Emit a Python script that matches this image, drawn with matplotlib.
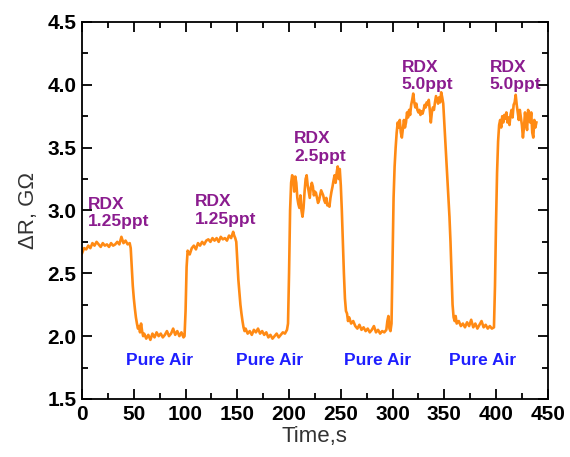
import numpy as np
import matplotlib
matplotlib.use("Agg")
from matplotlib import pyplot as plt
from matplotlib.ticker import MultipleLocator

# sensor response (time in s, dR in GOhm)
t_rdx1 = [0, 2, 4, 6, 8, 10, 12, 14, 16, 18, 20, 22, 24, 26, 28, 30, 32, 34, 36, 38, 40, 42, 44, 46, 47]
r_rdx1 = [2.66, 2.70, 2.69, 2.72, 2.70, 2.74, 2.72, 2.75, 2.73, 2.71, 2.74, 2.72, 2.73, 2.71, 2.74,
          2.72, 2.73, 2.75, 2.73, 2.79, 2.74, 2.76, 2.73, 2.74, 2.70]

t_air1 = [48, 49, 50, 51, 52, 53, 54, 55, 56, 57, 58, 59, 60, 62, 64, 66, 68, 70, 72, 74, 76, 78,
          80, 82, 84, 86, 88, 90, 92, 94, 96, 98, 99]
r_air1 = [2.55, 2.40, 2.30, 2.22, 2.15, 2.10, 2.06, 2.08, 2.03, 2.10, 2.04, 2.00, 2.02, 1.98, 2.01,
          1.97, 2.02, 1.99, 2.03, 2.00, 2.02, 1.99, 2.01, 2.04, 2.00, 2.02, 2.06, 2.01, 2.04, 2.00,
          2.03, 1.99, 2.00]

t_rdx2 = [100, 101, 102, 104, 106, 108, 110, 112, 114, 116, 118, 120, 122, 124, 126, 128, 130, 132,
          134, 136, 138, 140, 142, 144, 146, 147, 148]
r_rdx2 = [2.20, 2.55, 2.68, 2.65, 2.70, 2.72, 2.69, 2.74, 2.72, 2.75, 2.73, 2.76, 2.77, 2.75, 2.78,
          2.76, 2.78, 2.75, 2.79, 2.77, 2.78, 2.76, 2.80, 2.78, 2.83, 2.80, 2.78]

t_air2 = [149, 150, 151, 152, 153, 154, 155, 156, 157, 158, 160, 162, 164, 166, 168, 170, 172, 174,
          176, 178, 180, 182, 184, 186, 188, 190, 192, 194, 196, 198, 199]
r_air2 = [2.75, 2.60, 2.45, 2.35, 2.25, 2.18, 2.12, 2.07, 2.04, 2.06, 2.02, 2.04, 2.01, 2.05, 2.03,
          2.06, 2.02, 2.04, 2.01, 2.03, 1.99, 2.01, 1.98, 2.00, 2.02, 1.99, 2.01, 2.03, 2.02, 2.05, 2.10]

t_rdx3 = list(range(200, 251))
r_rdx3 = [2.50, 3.00, 3.22, 3.28, 3.25, 3.15, 3.27, 3.22, 3.10, 3.05, 3.02, 3.12, 3.00, 2.95, 3.02,
          3.15, 3.25, 3.28, 3.20, 3.15, 3.10, 3.18, 3.22, 3.19, 3.12, 3.15, 3.14, 3.10, 3.06, 3.08,
          3.12, 3.16, 3.14, 3.12, 3.08, 3.06, 3.10, 3.04, 3.05, 3.03, 3.10, 3.15, 3.19, 3.24, 3.28,
          3.22, 3.30, 3.35, 3.25, 3.33, 3.20]

t_air3 = [251, 252, 253, 254, 255, 256, 257, 258, 260, 262, 264, 266, 268, 270, 272, 274, 276, 278,
          280, 282, 284, 286, 288, 290, 292, 294, 295, 296, 297, 298, 299]
r_air3 = [3.00, 2.75, 2.50, 2.30, 2.20, 2.18, 2.12, 2.15, 2.10, 2.12, 2.08, 2.06, 2.09, 2.05, 2.07,
          2.04, 2.06, 2.03, 2.05, 2.08, 2.03, 2.05, 2.02, 2.04, 2.03, 2.05, 2.12, 2.16, 2.06, 2.04, 2.10]

t_rdx4 = list(range(300, 350))
r_rdx4 = [2.60, 3.10, 3.35, 3.50, 3.62, 3.70, 3.66, 3.72, 3.62, 3.58, 3.65, 3.72, 3.66, 3.70, 3.78,
          3.74, 3.80, 3.76, 3.84, 3.88, 3.93, 3.86, 3.82, 3.85, 3.80, 3.78, 3.80, 3.76, 3.79, 3.77,
          3.80, 3.84, 3.82, 3.86, 3.84, 3.88, 3.80, 3.70, 3.78, 3.82, 3.80, 3.86, 3.91, 3.88, 3.85,
          3.90, 3.86, 3.94, 3.90, 3.85]

t_air4 = [350, 351, 352, 353, 354, 355, 356, 357, 358, 359, 360, 361, 362, 364, 366, 368, 370, 372,
          374, 376, 378, 380, 382, 384, 386, 388, 390, 392, 394, 396, 398]
r_air4 = [3.70, 3.55, 3.40, 3.25, 3.10, 2.95, 2.75, 2.50, 2.25, 2.15, 2.12, 2.16, 2.10, 2.12, 2.08,
          2.10, 2.07, 2.11, 2.08, 2.13, 2.07, 2.10, 2.06, 2.09, 2.12, 2.07, 2.09, 2.06, 2.08, 2.06, 2.07]

t_rdx5 = list(range(399, 440))
r_rdx5 = [2.40, 2.90, 3.30, 3.55, 3.68, 3.72, 3.66, 3.75, 3.70, 3.76, 3.73, 3.78, 3.70, 3.74, 3.68,
          3.76, 3.80, 3.74, 3.84, 3.86, 3.92, 3.84, 3.78, 3.72, 3.80, 3.74, 3.68, 3.58, 3.66, 3.78,
          3.70, 3.64, 3.80, 3.76, 3.70, 3.78, 3.62, 3.58, 3.72, 3.66, 3.70]

time_s = t_rdx1 + t_air1 + t_rdx2 + t_air2 + t_rdx3 + t_air3 + t_rdx4 + t_air4 + t_rdx5
delta_r = r_rdx1 + r_air1 + r_rdx2 + r_air2 + r_rdx3 + r_air3 + r_rdx4 + r_air4 + r_rdx5

# labels on the plot
rdx_text = ["RDX\n1.25ppt", "RDX\n1.25ppt", "RDX\n2.5ppt", "RDX\n5.0ppt", "RDX\n5.0ppt"]
rdx_x = [6, 109, 205, 309, 394]
rdx_y = [2.98, 3.0, 3.50, 4.07, 4.07]
air_x = [75, 181, 286, 387]
air_y = [1.81, 1.81, 1.81, 1.81]

plt.rcParams['font.family'] = ['Liberation Sans', 'DejaVu Sans']

fig = plt.figure(figsize=(5.7, 4.57), dpi=100)
ax = fig.add_axes([0.144, 0.127, 0.817, 0.825])

ax.plot(time_s, delta_r, color='#ff8a14', lw=1.9)

for txt, x, y in zip(rdx_text, rdx_x, rdx_y):
    ax.text(x, y, txt, color='#8b1c8f', fontsize=12.5, fontweight='bold',
            ha='left', va='center', linespacing=1.2)
for x, y in zip(air_x, air_y):
    ax.text(x, y, "Pure Air", color='#1f1fff', fontsize=12.5, fontweight='bold',
            ha='center', va='center')

ax.set_xlim(0, 450)
ax.set_ylim(1.5, 4.5)
ax.xaxis.set_major_locator(MultipleLocator(50))
ax.xaxis.set_minor_locator(MultipleLocator(25))
ax.yaxis.set_major_locator(MultipleLocator(0.5))
ax.yaxis.set_minor_locator(MultipleLocator(0.25))
ax.yaxis.set_major_formatter(matplotlib.ticker.FormatStrFormatter('%.1f'))
ax.tick_params(which='both', direction='in', top=True, right=True, width=1.3)
ax.tick_params(which='major', length=7, labelsize=15, pad=4)
ax.tick_params(which='minor', length=4)
for lab in ax.get_xticklabels() + ax.get_yticklabels():
    lab.set_fontweight('bold')
for s in ax.spines.values():
    s.set_linewidth(1.3)

ax.set_xlabel("Time,s", fontsize=16, color='#333333', labelpad=2)
ax.set_ylabel("\u0394R, G\u03a9", fontsize=16, color='#333333', labelpad=6)

plt.savefig("out.png", dpi=100)
